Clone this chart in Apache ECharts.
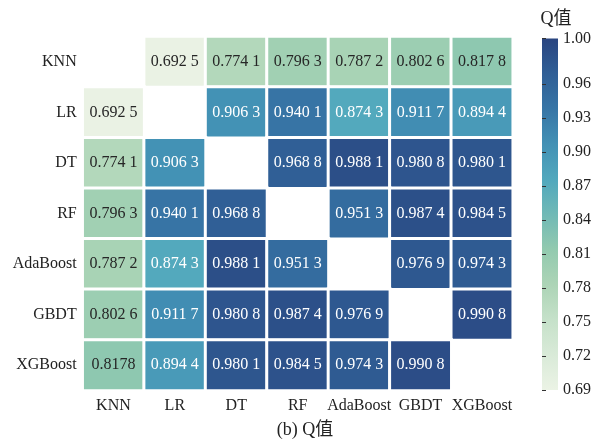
<!DOCTYPE html>
<html>
<head>
<meta charset="utf-8">
<script src="https://cdn.jsdelivr.net/npm/echarts@6/dist/echarts.min.js"></script>
<style>
  html, body { margin: 0; padding: 0; background: #fff; }
  #chart { width: 597px; height: 440px; }
</style>
</head>
<body>
<div id="chart"></div>
<script>
// Model names (rows and columns of the pairwise matrix)
const models = ['KNN', 'LR', 'DT', 'RF', 'AdaBoost', 'GBDT', 'XGBoost'];

// Pairwise Q values, one row per model; null on the diagonal
const rowKNN      = [null,   0.6925, 0.7741, 0.7963, 0.7872, 0.8026, 0.8178];
const rowLR       = [0.6925, null,   0.9063, 0.9401, 0.8743, 0.9117, 0.8944];
const rowDT       = [0.7741, 0.9063, null,   0.9688, 0.9881, 0.9808, 0.9801];
const rowRF       = [0.7963, 0.9401, 0.9688, null,   0.9513, 0.9874, 0.9845];
const rowAdaBoost = [0.7872, 0.8743, 0.9881, 0.9513, null,   0.9769, 0.9743];
const rowGBDT     = [0.8026, 0.9117, 0.9808, 0.9874, 0.9769, null,   0.9908];
const rowXGBoost  = [0.8178, 0.8944, 0.9801, 0.9845, 0.9743, 0.9908, null];
const matrix = [rowKNN, rowLR, rowDT, rowRF, rowAdaBoost, rowGBDT, rowXGBoost];

// Colour bar range and its tick values
const scaleMin = 0.69;
const scaleMax = 1.00;
const barTicks = [0.69, 0.72, 0.75, 0.78, 0.81, 0.84, 0.87, 0.90, 0.93, 0.96, 1.00];

// Cells whose label is printed without the thin digit-group space ([row, col])
const ungroupedCells = [[6, 0]];

const palette = ['#ebf3e5', '#d9ead8', '#c5e1c9', '#acd4b6', '#92caaf', '#70b9b6',
                 '#51a8bd', '#4391b5', '#3775a6', '#305f96', '#2a4580'];

const serif = "'Liberation Serif', 'Times New Roman', 'Noto Sans CJK SC', serif";

function formatQ(v, r, c) {
  const s = v.toFixed(4);
  if (ungroupedCells.some(p => p[0] === r && p[1] === c)) return s;
  return s.slice(0, 5) + ' ' + s.slice(5);
}

const cells = [];
matrix.forEach((row, r) => {
  row.forEach((v, c) => {
    if (v === null) return;
    cells.push({
      value: [c, r, v],
      label: {
        formatter: formatQ(v, r, c),
        color: v > 0.85 ? '#ffffff' : '#262626'
      }
    });
  });
});

const chart = echarts.init(document.getElementById('chart'));

const gradientStops = palette.map((col, i) => ({
  offset: 1 - i / (palette.length - 1),
  color: col
}));

chart.setOption({
  animation: false,
  backgroundColor: '#ffffff',
  textStyle: { fontFamily: serif },
  title: [
    {
      text: 'Q值',
      left: 551, top: 5,
      textAlign: 'center',
      textStyle: { fontFamily: serif, fontSize: 18, fontWeight: 'normal', color: '#222' }
    },
    {
      text: '(b) Q值',
      left: 300, top: 416,
      textAlign: 'center',
      textStyle: { fontFamily: serif, fontSize: 18, fontWeight: 'normal', color: '#222' }
    }
  ],
  grid: [
    { left: 82.7, top: 36.5, width: 430, height: 354 },
    { left: 542, top: 38.5, width: 16, height: 351.5 }
  ],
  xAxis: [
    {
      type: 'category', gridIndex: 0, data: models,
      axisLine: { show: false }, axisTick: { show: false }, splitLine: { show: false },
      axisLabel: { color: '#222', fontSize: 16, fontFamily: serif, margin: 7, interval: 0 }
    },
    { type: 'value', gridIndex: 1, min: 0, max: 1, show: false }
  ],
  yAxis: [
    {
      type: 'category', gridIndex: 0, data: models, inverse: true,
      axisLine: { show: false }, axisTick: { show: false }, splitLine: { show: false },
      axisLabel: { color: '#222', fontSize: 16, fontFamily: serif, margin: 6, interval: 0 }
    },
    {
      type: 'value', gridIndex: 1, position: 'right', z: 10,
      min: scaleMin, max: scaleMax,
      axisLine: { show: false }, splitLine: { show: false },
      axisTick: { show: true, inside: false, length: 4, customValues: barTicks,
                  lineStyle: { color: '#333', width: 1 } },
      axisLabel: { customValues: barTicks, margin: 5, color: '#222', fontSize: 16,
                   fontFamily: serif, formatter: v => v.toFixed(2) }
    }
  ],
  visualMap: {
    type: 'continuous', show: false, seriesIndex: 0,
    min: scaleMin, max: scaleMax,
    inRange: { color: palette }
  },
  series: [
    {
      type: 'heatmap',
      xAxisIndex: 0, yAxisIndex: 0,
      data: cells,
      itemStyle: { borderColor: '#ffffff', borderWidth: 3 },
      label: { show: true, fontSize: 16, fontFamily: serif },
      emphasis: { disabled: true }
    },
    {
      type: 'custom',
      xAxisIndex: 1, yAxisIndex: 1,
      data: [[0, scaleMin, scaleMax]],
      encode: { x: 0, y: [1, 2] },
      silent: true,
      z: 1,
      renderItem: (params, api) => {
        const p0 = api.coord([0, api.value(2)]);
        const p1 = api.coord([1, api.value(1)]);
        return {
          type: 'rect',
          shape: { x: p0[0], y: p0[1], width: p1[0] - p0[0], height: p1[1] - p0[1] },
          style: { fill: new echarts.graphic.LinearGradient(0, 0, 0, 1, gradientStops) }
        };
      }
    }
  ]
});
</script>
</body>
</html>
